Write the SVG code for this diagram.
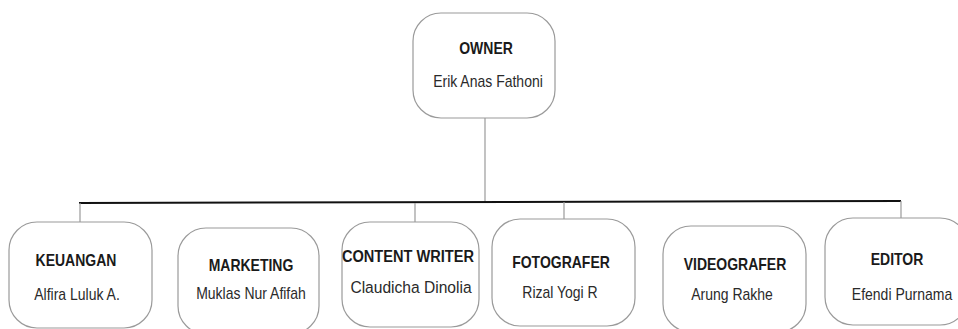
<svg xmlns="http://www.w3.org/2000/svg" width="958" height="329" viewBox="0 0 958 329">
<style>
.box{fill:#fff;stroke:#9a9a9a;stroke-width:1.2}
.t{font-family:"Liberation Sans",Arial,sans-serif;font-weight:bold;font-size:14px;fill:#1a1a1a;text-anchor:middle}
.n{font-family:"Liberation Sans",Arial,sans-serif;font-size:14px;fill:#2a2a2a;text-anchor:middle}
.c{stroke:#9a9a9a;stroke-width:1.2;fill:none}
.h{stroke:#111;stroke-width:2;fill:none}
</style>
<rect width="958" height="329" fill="#fff"/>
<g id="connectors">
<line class="c" x1="485" y1="118" x2="485" y2="202"/>
<line class="h" x1="79" y1="203" x2="901" y2="201"/>
<line class="c" x1="80" y1="203" x2="80" y2="222"/>
<line class="c" x1="415" y1="203" x2="415" y2="222"/>
<line class="c" x1="564" y1="202" x2="564" y2="219"/>
<line class="c" x1="901" y1="201" x2="901" y2="218"/>
</g>
<g id="owner">
<rect class="box" x="413" y="13" width="142" height="105" rx="28"/>
<text class="t" transform="translate(486 54) scale(1 1.15)">OWNER</text>
<text class="n" transform="translate(488 87) scale(1 1.15)">Erik Anas Fathoni</text>
</g>
<g id="keuangan">
<rect class="box" x="9" y="222" width="143" height="106" rx="28"/>
<text class="t" transform="translate(76 266) scale(1 1.15)">KEUANGAN</text>
<text class="n" transform="translate(77 300) scale(1 1.15)">Alfira Luluk A.</text>
</g>
<g id="marketing">
<rect class="box" x="178" y="228" width="141" height="106" rx="28"/>
<text class="t" transform="translate(251 271) scale(1 1.15)">MARKETING</text>
<text class="n" transform="translate(251 299) scale(1 1.15)">Muklas Nur Afifah</text>
</g>
<g id="content-writer">
<rect class="box" x="342" y="222" width="137" height="105" rx="28"/>
<text class="t" transform="translate(408 262) scale(1 1.15)" style="font-size:14.6px">CONTENT WRITER</text>
<text class="n" transform="translate(411 293) scale(1 1.1)" style="font-size:15.6px">Claudicha Dinolia</text>
</g>
<g id="fotografer">
<rect class="box" x="492" y="219" width="143" height="107" rx="28"/>
<text class="t" transform="translate(561 268) scale(1 1.15)">FOTOGRAFER</text>
<text class="n" transform="translate(560 298) scale(1 1.15)">Rizal Yogi R</text>
</g>
<g id="videografer">
<rect class="box" x="663" y="226" width="143" height="106" rx="28"/>
<text class="t" transform="translate(735 270) scale(1 1.15)">VIDEOGRAFER</text>
<text class="n" transform="translate(732 300) scale(1 1.15)">Arung Rakhe</text>
</g>
<g id="editor">
<rect class="box" x="825" y="218" width="143" height="107" rx="28"/>
<text class="t" transform="translate(897 265) scale(1 1.15)">EDITOR</text>
<text class="n" transform="translate(902 300) scale(1 1.15)">Efendi Purnama</text>
</g>
</svg>
